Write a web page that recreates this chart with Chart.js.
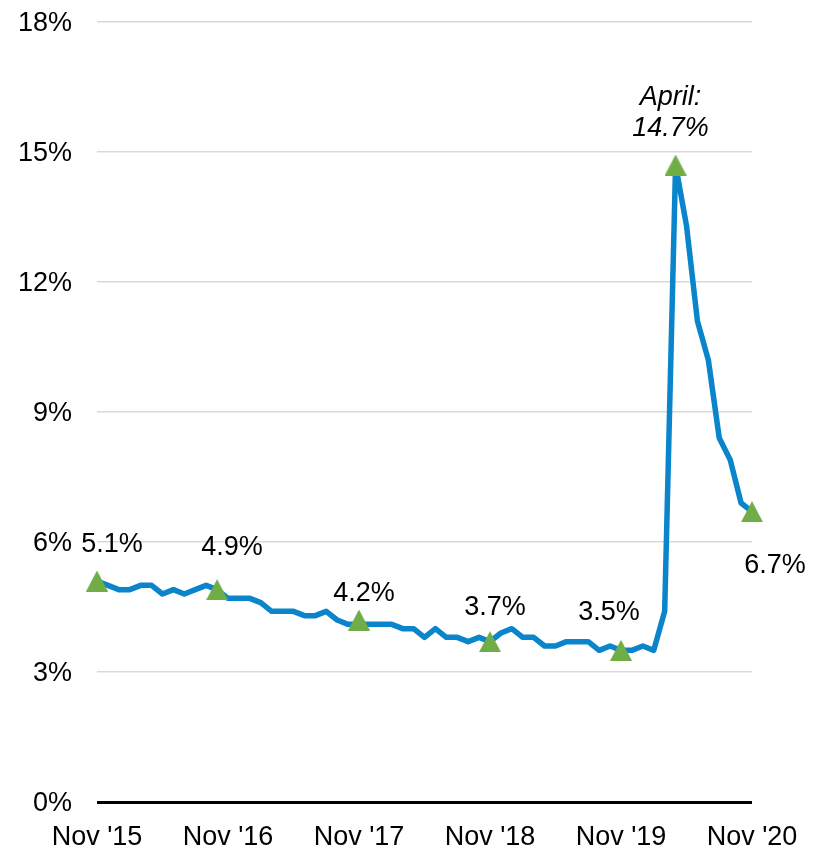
<!DOCTYPE html>
<html>
<head>
<meta charset="utf-8">
<title>Unemployment rate</title>
<script src="https://cdn.jsdelivr.net/npm/chart.js@4/dist/chart.umd.min.js"></script>
<style>
  html, body { margin: 0; padding: 0; background: #fff; }
  #wrap { width: 823px; height: 850px; position: relative; }
</style>
</head>
<body>
<div id="wrap"><canvas id="rateChart"></canvas></div>
<script>
// monthly categories, Nov 2015 - Nov 2020
var months = [
  "Nov '15", "Dec '15",
  "Jan '16", "Feb '16", "Mar '16", "Apr '16", "May '16", "Jun '16", "Jul '16", "Aug '16", "Sep '16", "Oct '16", "Nov '16", "Dec '16",
  "Jan '17", "Feb '17", "Mar '17", "Apr '17", "May '17", "Jun '17", "Jul '17", "Aug '17", "Sep '17", "Oct '17", "Nov '17", "Dec '17",
  "Jan '18", "Feb '18", "Mar '18", "Apr '18", "May '18", "Jun '18", "Jul '18", "Aug '18", "Sep '18", "Oct '18", "Nov '18", "Dec '18",
  "Jan '19", "Feb '19", "Mar '19", "Apr '19", "May '19", "Jun '19", "Jul '19", "Aug '19", "Sep '19", "Oct '19", "Nov '19", "Dec '19",
  "Jan '20", "Feb '20", "Mar '20", "Apr '20", "May '20", "Jun '20", "Jul '20", "Aug '20", "Sep '20", "Oct '20", "Nov '20"
];

// unemployment rate, %
var rate = [
  5.1, 5.0,
  4.9, 4.9, 5.0, 5.0, 4.8, 4.9, 4.8, 4.9, 5.0, 4.9, 4.7, 4.7,
  4.7, 4.6, 4.4, 4.4, 4.4, 4.3, 4.3, 4.4, 4.2, 4.1, 4.1, 4.1,
  4.1, 4.1, 4.0, 4.0, 3.8, 4.0, 3.8, 3.8, 3.7, 3.8, 3.7, 3.9,
  4.0, 3.8, 3.8, 3.6, 3.6, 3.7, 3.7, 3.7, 3.5, 3.6, 3.5, 3.5,
  3.6, 3.5, 4.4, 14.7, 13.3, 11.1, 10.2, 8.4, 7.9, 6.9, 6.7
];

// highlighted points (index into months) and their labelled values
var markerIndex = [0, 11, 24, 36, 48, 53, 60];
var markerValue = [5.1, 4.9, 4.2, 3.7, 3.5, 14.7, 6.7];

var yTicks = [0, 3, 6, 9, 12, 15, 18];

var FONT = '"Liberation Sans", Arial, Helvetica, sans-serif';
var FONT_SIZE = 27;
Chart.defaults.font.family = FONT;
Chart.defaults.font.size = FONT_SIZE;
Chart.defaults.color = '#000';

// green triangle marker, centred on its bounding box
function makeTriangle() {
  var c = document.createElement('canvas');
  c.width = 22; c.height = 21;
  var g = c.getContext('2d');
  g.fillStyle = '#70AD47';
  g.beginPath();
  g.moveTo(11, 0);
  g.lineTo(22, 21);
  g.lineTo(0, 21);
  g.closePath();
  g.fill();
  return c;
}

var markerData = months.map(function() { return null; });
markerIndex.forEach(function(idx, k) { markerData[idx] = markerValue[k]; });

// text next to the markers; dx/dy place the middle of the digits
var valueLabels = {
  id: 'valueLabels',
  afterDatasetsDraw: function(chart, args, opts) {
    var meta = chart.getDatasetMeta(0);
    var ctx = chart.ctx;
    var capMid = FONT_SIZE * 0.358;
    ctx.save();
    ctx.fillStyle = '#000';
    ctx.textAlign = 'center';
    ctx.textBaseline = 'alphabetic';
    opts.items.forEach(function(item, k) {
      var pt = meta.data[markerIndex[k]];
      var x = pt.x + item.dx;
      var y = pt.y + item.dy + capMid;
      ctx.font = (item.italic ? 'italic ' : '') + FONT_SIZE + 'px ' + FONT;
      ctx.fillText(markerValue[k].toFixed(1) + '%', x, y);
      if (item.head) {
        ctx.fillText(item.head, x, y - item.gap);
      }
    });
    ctx.restore();
  }
};

var ctx = document.getElementById('rateChart').getContext('2d');
var chart = new Chart(ctx, {
  type: 'line',
  data: {
    labels: months,
    datasets: [
      {
        label: 'markers',
        data: markerData,
        showLine: false,
        pointStyle: makeTriangle(),
        pointRadius: 10,
        pointHoverRadius: 10,
        clip: false
      },
      {
        label: 'Unemployment rate',
        data: rate,
        borderColor: '#0A84CA',
        borderWidth: 5.5,
        borderJoinStyle: 'round',
        borderCapStyle: 'round',
        pointRadius: 0,
        tension: 0,
        fill: false,
        clip: false
      }
    ]
  },
  options: {
    responsive: true,
    maintainAspectRatio: false,
    animation: false,
    events: [],
    layout: { padding: { top: 22, right: 71, left: 0, bottom: 0 } },
    plugins: {
      legend: { display: false },
      tooltip: { enabled: false },
      valueLabels: {
        items: [
          { dx: 15, dy: -39 },
          { dx: 15, dy: -44 },
          { dx: 5, dy: -29 },
          { dx: 5, dy: -36 },
          { dx: -12, dy: -40 },
          { dx: -5, dy: -39, head: 'April:', gap: 30.5, italic: true },
          { dx: 23, dy: 52 }
        ]
      }
    },
    scales: {
      x: {
        type: 'category',
        offset: false,
        grid: { display: false, drawTicks: false },
        border: { display: false },
        ticks: {
          autoSkip: false,
          maxRotation: 0,
          padding: 19,
          callback: function(val, i) { return i % 12 === 0 ? months[i] : ''; }
        },
        afterFit: function(s) { s.height = 48; }
      },
      y: {
        min: 0,
        max: 18,
        afterBuildTicks: function(s) { s.ticks = yTicks.map(function(v) { return { value: v }; }); },
        grid: {
          drawTicks: false,
          color: function(c) { return c.tick && c.tick.value === 0 ? '#000' : '#d9d9d9'; },
          lineWidth: function(c) { return c.tick && c.tick.value === 0 ? 3 : 1.5; }
        },
        border: { display: false },
        ticks: {
          padding: 25,
          labelOffset: 2,
          callback: function(v) { return v + '%'; }
        },
        afterFit: function(s) {
          s.width = 97;
          s.paddingTop = 0;
          s.paddingBottom = 0;
        }
      }
    }
  },
  plugins: [valueLabels]
});
</script>
</body>
</html>
